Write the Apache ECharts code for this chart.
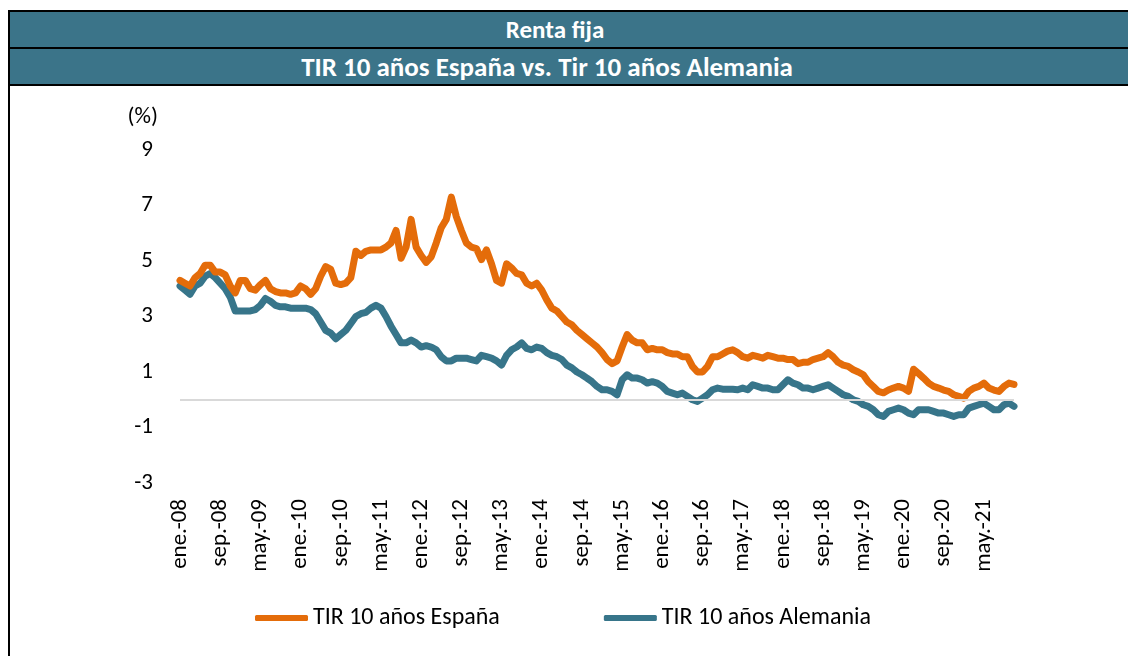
<!DOCTYPE html>
<html>
<head>
<meta charset="utf-8">
<script src="https://cdn.jsdelivr.net/npm/echarts@6/dist/echarts.min.js"></script>
<style>
  html, body { margin: 0; padding: 0; background: #fff; }
  body { width: 1128px; height: 656px; position: relative; overflow: hidden;
         font-family: Carlito, Calibri, "Liberation Sans", sans-serif; }
  .frame { position: absolute; left: 8px; top: 10px; width: 1130px; height: 660px;
           border-left: 2px solid #000; border-top: 2px solid #000; }
  .hdr { position: absolute; left: 10px; width: 1118px; box-sizing: border-box;
         background: #3b7489; color: #fff; font-weight: bold; text-align: center; }
  #h1 { top: 12px; height: 37px; line-height: 36px; font-size: 25px; padding-right: 28px; border-bottom: 2px solid #000; }
  #h2 { top: 49px; height: 37px; line-height: 36px; font-size: 27px; padding-right: 44px; border-bottom: 2px solid #000; }
  #chart { position: absolute; left: 0; top: 0; width: 1128px; height: 656px; }
</style>
</head>
<body>
<div class="frame"></div>
<div class="hdr" id="h1">Renta fija</div>
<div class="hdr" id="h2">TIR 10 años España vs. Tir 10 años Alemania</div>
<div id="chart"></div>
<script>
var monthNames = ['ene.', 'feb.', 'mar.', 'abr.', 'may.', 'jun.', 'jul.', 'ago.', 'sep.', 'oct.', 'nov.', 'dic.']
var firstYear = 8
var yTicks = [-3, -1, 1, 3, 5, 7, 9]

// TIR 10 años España, mensual ene.-08 .. nov.-21
var spain = [
    4.3, 4.2, 4.1, 4.4, 4.55, 4.85, 4.85, 4.6, 4.6, 4.5, 4.1, 3.85,
    4.3, 4.3, 4.0, 3.95, 4.15, 4.3, 4.0, 3.9, 3.85, 3.85, 3.8, 3.85,
    4.1, 4.0, 3.8, 4.0, 4.45, 4.8, 4.7, 4.2, 4.15, 4.2, 4.4, 5.35,
    5.2, 5.35, 5.4, 5.4, 5.4, 5.5, 5.65, 6.1, 5.1, 5.5, 6.5, 5.5,
    5.2, 4.95, 5.15, 5.65, 6.2, 6.5, 7.3, 6.6, 6.1, 5.65, 5.5, 5.45,
    5.05, 5.4, 4.9, 4.3, 4.2, 4.9, 4.75, 4.55, 4.5, 4.2, 4.1, 4.2,
    3.95, 3.6, 3.3, 3.2, 3.0, 2.8, 2.7, 2.5, 2.35, 2.2, 2.05, 1.9,
    1.7, 1.45, 1.3, 1.4, 1.9, 2.35, 2.15, 2.05, 2.05, 1.8, 1.85, 1.8,
    1.8, 1.7, 1.65, 1.65, 1.55, 1.55, 1.2, 1.0, 1.0, 1.2, 1.55, 1.55,
    1.65, 1.75, 1.8, 1.7, 1.55, 1.5, 1.6, 1.55, 1.5, 1.6, 1.55, 1.5,
    1.5, 1.45, 1.45, 1.3, 1.35, 1.35, 1.45, 1.5, 1.55, 1.7, 1.55, 1.35,
    1.25, 1.2, 1.08, 1.0, 0.9, 0.65, 0.48, 0.3, 0.25, 0.35, 0.42, 0.48,
    0.42, 0.3, 1.1, 0.95, 0.78, 0.6, 0.48, 0.42, 0.35, 0.3, 0.18, 0.12,
    0.06, 0.3, 0.42, 0.48, 0.6, 0.42, 0.35, 0.3, 0.48, 0.6, 0.55
]

// TIR 10 años Alemania
var germany = [
    4.1, 3.95, 3.8, 4.1, 4.2, 4.45, 4.55, 4.4, 4.2, 4.0, 3.7, 3.2,
    3.2, 3.2, 3.2, 3.25, 3.4, 3.65, 3.55, 3.4, 3.35, 3.35, 3.3, 3.3,
    3.3, 3.3, 3.25, 3.1, 2.8, 2.5, 2.4, 2.2, 2.35, 2.5, 2.75, 3.0,
    3.1, 3.15, 3.3, 3.4, 3.3, 3.0, 2.65, 2.35, 2.05, 2.05, 2.15, 2.05,
    1.9, 1.95, 1.9, 1.8, 1.55, 1.4, 1.4, 1.5, 1.5, 1.5, 1.45, 1.4,
    1.6, 1.55, 1.5, 1.4, 1.25, 1.6, 1.8, 1.9, 2.05, 1.85, 1.8, 1.9,
    1.85, 1.7, 1.6, 1.55, 1.45, 1.25, 1.15, 1.0, 0.9, 0.78, 0.65, 0.48,
    0.36, 0.36, 0.3, 0.18, 0.72, 0.9, 0.78, 0.78, 0.72, 0.6, 0.65, 0.6,
    0.48, 0.3, 0.24, 0.18, 0.24, 0.12, 0.0, -0.06, 0.06, 0.18, 0.36, 0.42,
    0.38, 0.38, 0.38, 0.36, 0.42, 0.36, 0.54, 0.48, 0.42, 0.42, 0.36, 0.36,
    0.54, 0.72, 0.6, 0.54, 0.42, 0.42, 0.36, 0.42, 0.48, 0.54, 0.42, 0.3,
    0.18, 0.12, 0.0, -0.06, -0.18, -0.24, -0.36, -0.54, -0.6, -0.42, -0.36, -0.3,
    -0.36, -0.48, -0.54, -0.36, -0.36, -0.36, -0.42, -0.48, -0.48, -0.54, -0.6, -0.54,
    -0.54, -0.3, -0.24, -0.18, -0.12, -0.24, -0.36, -0.36, -0.18, -0.12, -0.24
]

var months = []
for (var i = 0; i < spain.length; i++) {
    var yy = firstYear + Math.floor(i / 12)
    months.push(monthNames[i % 12] + '-' + (yy < 10 ? '0' + yy : yy))
}

var font = 'Carlito, Calibri, "Liberation Sans", sans-serif'
var orange = '#e46c0a'
var teal = '#37758a'

var echart = echarts.init(document.getElementById('chart'))

option = {
    animation: false,
    grid: { left: 180, right: 114, top: 150, bottom: 173 },
    legend: {
        left: 250,
        top: 601,
        icon: 'roundRect',
        itemWidth: 53,
        itemHeight: 6,
        itemGap: 104,
        textStyle: { fontFamily: font, fontSize: 24, color: '#000' },
        data: ['TIR 10 años España', 'TIR 10 años Alemania']
    },
    xAxis: {
        type: 'category',
        data: months,
        boundaryGap: false,
        axisLine: { show: false, onZero: false },
        axisTick: { show: false },
        axisLabel: {
            interval: 7,
            rotate: 90,
            margin: 16,
            fontFamily: font,
            fontSize: 23,
            color: '#000'
        }
    },
    yAxis: {
        type: 'value',
        min: yTicks[0],
        max: yTicks[yTicks.length - 1],
        interval: 2,
        name: '(%)',
        nameLocation: 'end',
        nameGap: 33,
        nameTextStyle: {
            fontFamily: font, fontSize: 23, color: '#000',
            align: 'right', verticalAlign: 'middle', padding: [0, 22, 0, 0]
        },
        axisLine: { show: false },
        axisTick: { show: false },
        splitLine: { show: false },
        axisLabel: { margin: 27, fontFamily: font, fontSize: 23, color: '#000' }
    },
    series: [
        {
            name: 'TIR 10 años España',
            type: 'line',
            data: spain,
            showSymbol: false,
            z: 3,
            lineStyle: { color: orange, width: 7, cap: 'round', join: 'round' },
            itemStyle: { color: orange },
            markLine: {
                silent: true,
                symbol: ['none', 'none'],
                label: { show: false },
                lineStyle: { color: '#d9d9d9', width: 2, type: 'solid' },
                data: [{ yAxis: 0 }]
            }
        },
        {
            name: 'TIR 10 años Alemania',
            type: 'line',
            data: germany,
            showSymbol: false,
            z: 2,
            lineStyle: { color: teal, width: 7, cap: 'round', join: 'round' },
            itemStyle: { color: teal }
        }
    ]
}

echart.setOption(option)
</script>
</body>
</html>
